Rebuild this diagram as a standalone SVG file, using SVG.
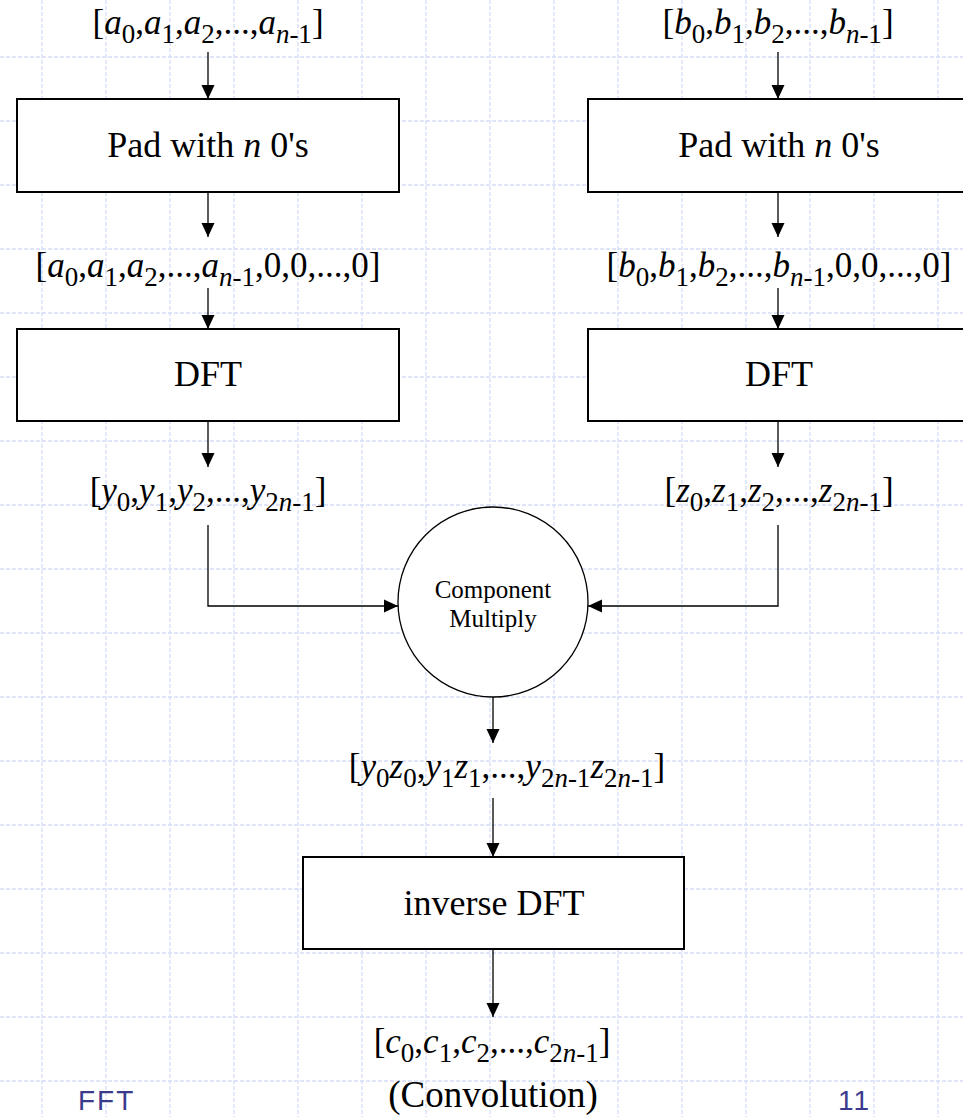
<svg xmlns="http://www.w3.org/2000/svg" width="963" height="1117" viewBox="0 0 963 1117">
<defs>
<style>
.grid line{stroke:#D5DCF7;stroke-width:1.3;stroke-dasharray:4 2}
.box{fill:#fff;stroke:#000;stroke-width:2}
.lbl{font-family:"Liberation Serif","Times New Roman",serif;fill:#000;text-anchor:middle}
.m{font-family:"Liberation Serif","Times New Roman",serif;font-size:35px;fill:#000;text-anchor:middle}
.i{font-style:italic}
.s{font-size:27px}
.conn line,.conn polyline{stroke:#000;stroke-width:1.3;fill:none}
.foot{font-family:"Liberation Sans",Arial,sans-serif;fill:#3B3B8C;font-size:28px;letter-spacing:2px}
</style>
<marker id="ah" markerUnits="userSpaceOnUse" markerWidth="14" markerHeight="14" viewBox="0 0 14 14" refX="14" refY="7" orient="auto">
<path d="M0,0.5 L14,7 L0,13.5 Z" fill="#000"/>
</marker>
</defs>
<rect width="963" height="1117" fill="#fff"/>
<g class="grid" id="grid">
<line x1="42" y1="0" x2="42" y2="1117"/><line x1="106" y1="0" x2="106" y2="1117"/><line x1="170" y1="0" x2="170" y2="1117"/><line x1="234" y1="0" x2="234" y2="1117"/><line x1="298" y1="0" x2="298" y2="1117"/><line x1="362" y1="0" x2="362" y2="1117"/><line x1="426" y1="0" x2="426" y2="1117"/><line x1="490" y1="0" x2="490" y2="1117"/><line x1="554" y1="0" x2="554" y2="1117"/><line x1="618" y1="0" x2="618" y2="1117"/><line x1="682" y1="0" x2="682" y2="1117"/><line x1="746" y1="0" x2="746" y2="1117"/><line x1="810" y1="0" x2="810" y2="1117"/><line x1="874" y1="0" x2="874" y2="1117"/><line x1="938" y1="0" x2="938" y2="1117"/>
<line x1="0" y1="57" x2="963" y2="57"/><line x1="0" y1="121" x2="963" y2="121"/><line x1="0" y1="185" x2="963" y2="185"/><line x1="0" y1="249" x2="963" y2="249"/><line x1="0" y1="313" x2="963" y2="313"/><line x1="0" y1="377" x2="963" y2="377"/><line x1="0" y1="441" x2="963" y2="441"/><line x1="0" y1="505" x2="963" y2="505"/><line x1="0" y1="569" x2="963" y2="569"/><line x1="0" y1="633" x2="963" y2="633"/><line x1="0" y1="697" x2="963" y2="697"/><line x1="0" y1="761" x2="963" y2="761"/><line x1="0" y1="825" x2="963" y2="825"/><line x1="0" y1="889" x2="963" y2="889"/><line x1="0" y1="953" x2="963" y2="953"/><line x1="0" y1="1017" x2="963" y2="1017"/><line x1="0" y1="1081" x2="963" y2="1081"/>
</g>
<g class="conn" id="connectors">
<line x1="208" y1="52" x2="208" y2="99" marker-end="url(#ah)"/>
<line x1="208" y1="192" x2="208" y2="237" marker-end="url(#ah)"/>
<line x1="208" y1="288" x2="208" y2="329" marker-end="url(#ah)"/>
<line x1="208" y1="421" x2="208" y2="467" marker-end="url(#ah)"/>
<polyline points="208,525 208,606 398,606" marker-end="url(#ah)"/>
<line x1="778" y1="52" x2="778" y2="99" marker-end="url(#ah)"/>
<line x1="778" y1="192" x2="778" y2="237" marker-end="url(#ah)"/>
<line x1="778" y1="288" x2="778" y2="329" marker-end="url(#ah)"/>
<line x1="778" y1="421" x2="778" y2="467" marker-end="url(#ah)"/>
<polyline points="778,525 778,606 588,606" marker-end="url(#ah)"/>
<line x1="493" y1="697" x2="493" y2="743" marker-end="url(#ah)"/>
<line x1="493" y1="798" x2="493" y2="857" marker-end="url(#ah)"/>
<line x1="493" y1="949" x2="493" y2="1017" marker-end="url(#ah)"/>
</g>
<g id="a-in"><text class="m" x="208" y="34">[<tspan class="i">a</tspan><tspan class="s" dy="9">0</tspan><tspan dy="-9">,</tspan><tspan class="i">a</tspan><tspan class="s" dy="9">1</tspan><tspan dy="-9">,</tspan><tspan class="i">a</tspan><tspan class="s" dy="9">2</tspan><tspan dy="-9">,...,</tspan><tspan class="i">a</tspan><tspan class="s" dy="9"><tspan class="i">n</tspan>-1</tspan><tspan dy="-9">]</tspan></text></g>
<g id="b-in"><text class="m" x="778" y="34">[<tspan class="i">b</tspan><tspan class="s" dy="9">0</tspan><tspan dy="-9">,</tspan><tspan class="i">b</tspan><tspan class="s" dy="9">1</tspan><tspan dy="-9">,</tspan><tspan class="i">b</tspan><tspan class="s" dy="9">2</tspan><tspan dy="-9">,...,</tspan><tspan class="i">b</tspan><tspan class="s" dy="9"><tspan class="i">n</tspan>-1</tspan><tspan dy="-9">]</tspan></text></g>
<g id="pad-a"><rect class="box" x="17" y="99" width="382" height="93"/><text class="lbl" x="208" y="157" font-size="36">Pad with <tspan class="i">n</tspan> 0's</text></g>
<g id="pad-b"><rect class="box" x="588" y="99" width="382" height="93"/><text class="lbl" x="779" y="157" font-size="36">Pad with <tspan class="i">n</tspan> 0's</text></g>
<g id="a-pad"><text class="m" x="208" y="277">[<tspan class="i">a</tspan><tspan class="s" dy="9">0</tspan><tspan dy="-9">,</tspan><tspan class="i">a</tspan><tspan class="s" dy="9">1</tspan><tspan dy="-9">,</tspan><tspan class="i">a</tspan><tspan class="s" dy="9">2</tspan><tspan dy="-9">,...,</tspan><tspan class="i">a</tspan><tspan class="s" dy="9"><tspan class="i">n</tspan>-1</tspan><tspan dy="-9">,0,0,...,0]</tspan></text></g>
<g id="b-pad"><text class="m" x="779" y="277">[<tspan class="i">b</tspan><tspan class="s" dy="9">0</tspan><tspan dy="-9">,</tspan><tspan class="i">b</tspan><tspan class="s" dy="9">1</tspan><tspan dy="-9">,</tspan><tspan class="i">b</tspan><tspan class="s" dy="9">2</tspan><tspan dy="-9">,...,</tspan><tspan class="i">b</tspan><tspan class="s" dy="9"><tspan class="i">n</tspan>-1</tspan><tspan dy="-9">,0,0,...,0]</tspan></text></g>
<g id="dft-a"><rect class="box" x="17" y="329" width="382" height="92"/><text class="lbl" x="208" y="386" font-size="36">DFT</text></g>
<g id="dft-b"><rect class="box" x="588" y="329" width="382" height="92"/><text class="lbl" x="779" y="386" font-size="36">DFT</text></g>
<g id="y-out"><text class="m" x="208" y="502">[<tspan class="i">y</tspan><tspan class="s" dy="9">0</tspan><tspan dy="-9">,</tspan><tspan class="i">y</tspan><tspan class="s" dy="9">1</tspan><tspan dy="-9">,</tspan><tspan class="i">y</tspan><tspan class="s" dy="9">2</tspan><tspan dy="-9">,...,</tspan><tspan class="i">y</tspan><tspan class="s" dy="9">2<tspan class="i">n</tspan>-1</tspan><tspan dy="-9">]</tspan></text></g>
<g id="z-out"><text class="m" x="779" y="502">[<tspan class="i">z</tspan><tspan class="s" dy="9">0</tspan><tspan dy="-9">,</tspan><tspan class="i">z</tspan><tspan class="s" dy="9">1</tspan><tspan dy="-9">,</tspan><tspan class="i">z</tspan><tspan class="s" dy="9">2</tspan><tspan dy="-9">,...,</tspan><tspan class="i">z</tspan><tspan class="s" dy="9">2<tspan class="i">n</tspan>-1</tspan><tspan dy="-9">]</tspan></text></g>
<g id="multiply"><circle cx="493" cy="602" r="95" fill="#fff" stroke="#000" stroke-width="1.3"/><text class="lbl" x="493" y="598" font-size="25">Component</text><text class="lbl" x="493" y="627" font-size="25">Multiply</text></g>
<g id="yz"><text class="m" x="507" y="778">[<tspan class="i">y</tspan><tspan class="s" dy="9">0</tspan><tspan class="i" dy="-9">z</tspan><tspan class="s" dy="9">0</tspan><tspan dy="-9">,</tspan><tspan class="i">y</tspan><tspan class="s" dy="9">1</tspan><tspan class="i" dy="-9">z</tspan><tspan class="s" dy="9">1</tspan><tspan dy="-9">,...,</tspan><tspan class="i">y</tspan><tspan class="s" dy="9">2<tspan class="i">n</tspan>-1</tspan><tspan class="i" dy="-9">z</tspan><tspan class="s" dy="9">2<tspan class="i">n</tspan>-1</tspan><tspan dy="-9">]</tspan></text></g>
<g id="idft"><rect class="box" x="303" y="857" width="381" height="92"/><text class="lbl" x="494" y="915" font-size="36">inverse DFT</text></g>
<g id="c-out"><text class="m" x="492" y="1053">[<tspan class="i">c</tspan><tspan class="s" dy="9">0</tspan><tspan dy="-9">,</tspan><tspan class="i">c</tspan><tspan class="s" dy="9">1</tspan><tspan dy="-9">,</tspan><tspan class="i">c</tspan><tspan class="s" dy="9">2</tspan><tspan dy="-9">,...,</tspan><tspan class="i">c</tspan><tspan class="s" dy="9">2<tspan class="i">n</tspan>-1</tspan><tspan dy="-9">]</tspan></text><text class="lbl" x="493" y="1107" font-size="37">(Convolution)</text></g>
<g id="footer"><text class="foot" x="78" y="1110">FFT</text><text class="foot" x="838" y="1110">11</text></g>
</svg>
